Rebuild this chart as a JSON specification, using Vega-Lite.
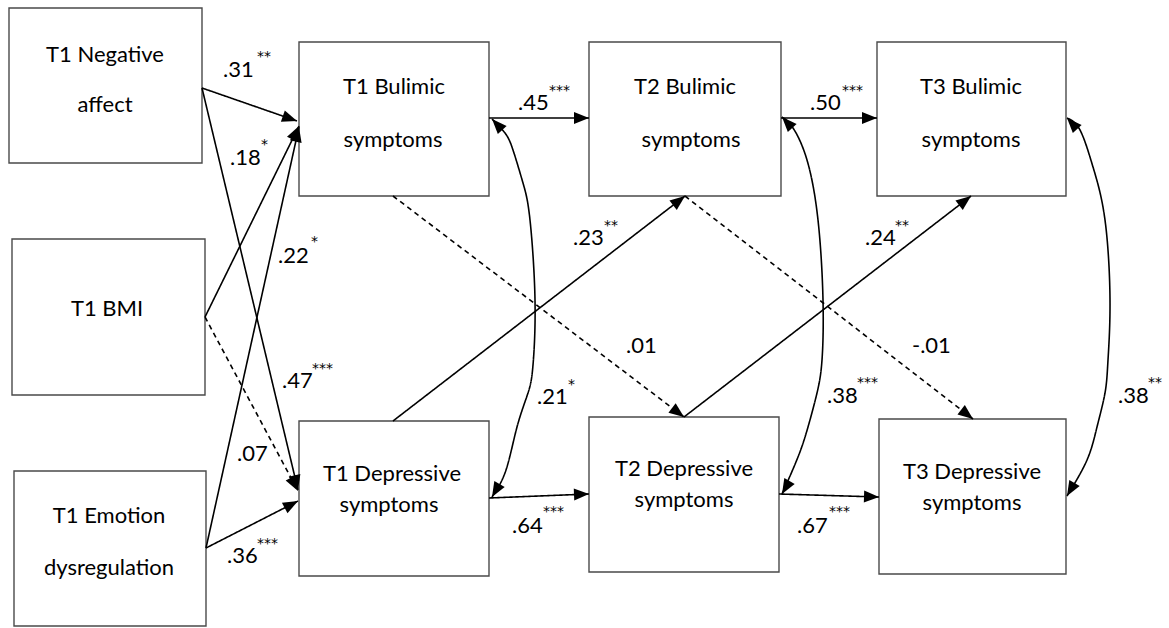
{
  "$schema": "https://vega.github.io/schema/vega-lite/v6.json",
  "width": 1169,
  "height": 628,
  "autosize": {"type": "fit", "contains": "padding"},
  "padding": 0,
  "background": "white",
  "config": {"view": {"stroke": null}},
  "datasets": {
    "boxes": [
      {"id": "T1 Negative affect", "x1": 9, "y1": 8, "x2": 202, "y2": 163},
      {"id": "T1 BMI", "x1": 12, "y1": 239, "x2": 205, "y2": 395},
      {"id": "T1 Emotion dysregulation", "x1": 14, "y1": 471, "x2": 206, "y2": 626},
      {"id": "T1 Bulimic symptoms", "x1": 299, "y1": 42, "x2": 489, "y2": 196},
      {"id": "T2 Bulimic symptoms", "x1": 589, "y1": 42, "x2": 781, "y2": 196},
      {"id": "T3 Bulimic symptoms", "x1": 877, "y1": 42, "x2": 1066, "y2": 196},
      {"id": "T1 Depressive symptoms", "x1": 299, "y1": 421, "x2": 489, "y2": 576},
      {"id": "T2 Depressive symptoms", "x1": 589, "y1": 417, "x2": 779, "y2": 572},
      {"id": "T3 Depressive symptoms", "x1": 879, "y1": 419, "x2": 1066, "y2": 574}
    ],
    "boxlabels": [
      {"text": "T1 Negative", "x": 105, "y": 62},
      {"text": "affect", "x": 105, "y": 112},
      {"text": "T1 BMI", "x": 107, "y": 316},
      {"text": "T1 Emotion", "x": 109, "y": 523},
      {"text": "dysregulation", "x": 109, "y": 575},
      {"text": "T1 Bulimic", "x": 394, "y": 94},
      {"text": "symptoms", "x": 393, "y": 147},
      {"text": "T2 Bulimic", "x": 685, "y": 94},
      {"text": "symptoms", "x": 691, "y": 147},
      {"text": "T3 Bulimic", "x": 971, "y": 94},
      {"text": "symptoms", "x": 971, "y": 147},
      {"text": "T1 Depressive", "x": 392, "y": 481},
      {"text": "symptoms", "x": 389, "y": 512},
      {"text": "T2 Depressive", "x": 684, "y": 476},
      {"text": "symptoms", "x": 684, "y": 507},
      {"text": "T3 Depressive", "x": 972, "y": 479},
      {"text": "symptoms", "x": 972, "y": 510}
    ],
    "paths": [
      {"id": "p1", "seq": 1, "x": 202, "y": 88, "sig": "yes"},
      {"id": "p1", "seq": 2, "x": 297, "y": 121, "sig": "yes"},
      {"id": "p2", "seq": 1, "x": 202, "y": 88, "sig": "yes"},
      {"id": "p2", "seq": 2, "x": 298, "y": 490, "sig": "yes"},
      {"id": "p3", "seq": 1, "x": 205, "y": 317, "sig": "yes"},
      {"id": "p3", "seq": 2, "x": 299, "y": 126, "sig": "yes"},
      {"id": "p4", "seq": 1, "x": 205, "y": 317, "sig": "no"},
      {"id": "p4", "seq": 2, "x": 298, "y": 491, "sig": "no"},
      {"id": "p5", "seq": 1, "x": 206, "y": 548, "sig": "yes"},
      {"id": "p5", "seq": 2, "x": 299, "y": 127, "sig": "yes"},
      {"id": "p6", "seq": 1, "x": 206, "y": 548, "sig": "yes"},
      {"id": "p6", "seq": 2, "x": 298, "y": 501, "sig": "yes"},
      {"id": "p7", "seq": 1, "x": 489, "y": 118, "sig": "yes"},
      {"id": "p7", "seq": 2, "x": 589, "y": 118, "sig": "yes"},
      {"id": "p8", "seq": 1, "x": 781, "y": 118, "sig": "yes"},
      {"id": "p8", "seq": 2, "x": 877, "y": 118, "sig": "yes"},
      {"id": "p9", "seq": 1, "x": 489, "y": 498, "sig": "yes"},
      {"id": "p9", "seq": 2, "x": 589, "y": 494, "sig": "yes"},
      {"id": "p10", "seq": 1, "x": 779, "y": 494, "sig": "yes"},
      {"id": "p10", "seq": 2, "x": 879, "y": 497, "sig": "yes"},
      {"id": "p11", "seq": 1, "x": 393, "y": 421, "sig": "yes"},
      {"id": "p11", "seq": 2, "x": 685, "y": 196, "sig": "yes"},
      {"id": "p12", "seq": 1, "x": 684, "y": 417, "sig": "yes"},
      {"id": "p12", "seq": 2, "x": 971, "y": 196, "sig": "yes"},
      {"id": "p13", "seq": 1, "x": 393, "y": 196, "sig": "no"},
      {"id": "p13", "seq": 2, "x": 684, "y": 417, "sig": "no"},
      {"id": "p14", "seq": 1, "x": 685, "y": 196, "sig": "no"},
      {"id": "p14", "seq": 2, "x": 973, "y": 419, "sig": "no"},
      {"id": "c1", "seq": 1, "x": 492, "y": 119, "sig": "yes"},
      {"id": "c1", "seq": 2, "x": 505, "y": 133, "sig": "yes"},
      {"id": "c1", "seq": 3, "x": 513, "y": 150, "sig": "yes"},
      {"id": "c1", "seq": 4, "x": 523, "y": 183, "sig": "yes"},
      {"id": "c1", "seq": 5, "x": 530, "y": 220, "sig": "yes"},
      {"id": "c1", "seq": 6, "x": 535, "y": 300, "sig": "yes"},
      {"id": "c1", "seq": 7, "x": 533, "y": 365, "sig": "yes"},
      {"id": "c1", "seq": 8, "x": 528, "y": 393, "sig": "yes"},
      {"id": "c1", "seq": 9, "x": 517, "y": 427, "sig": "yes"},
      {"id": "c1", "seq": 10, "x": 506, "y": 470, "sig": "yes"},
      {"id": "c1", "seq": 11, "x": 492, "y": 497, "sig": "yes"},
      {"id": "c2", "seq": 1, "x": 782, "y": 117, "sig": "yes"},
      {"id": "c2", "seq": 2, "x": 793, "y": 128, "sig": "yes"},
      {"id": "c2", "seq": 3, "x": 807, "y": 160, "sig": "yes"},
      {"id": "c2", "seq": 4, "x": 818, "y": 220, "sig": "yes"},
      {"id": "c2", "seq": 5, "x": 823, "y": 300, "sig": "yes"},
      {"id": "c2", "seq": 6, "x": 822, "y": 360, "sig": "yes"},
      {"id": "c2", "seq": 7, "x": 817, "y": 393, "sig": "yes"},
      {"id": "c2", "seq": 8, "x": 808, "y": 427, "sig": "yes"},
      {"id": "c2", "seq": 9, "x": 798, "y": 457, "sig": "yes"},
      {"id": "c2", "seq": 10, "x": 782, "y": 494, "sig": "yes"},
      {"id": "c3", "seq": 1, "x": 1067, "y": 118, "sig": "yes"},
      {"id": "c3", "seq": 2, "x": 1080, "y": 130, "sig": "yes"},
      {"id": "c3", "seq": 3, "x": 1093, "y": 167, "sig": "yes"},
      {"id": "c3", "seq": 4, "x": 1105, "y": 220, "sig": "yes"},
      {"id": "c3", "seq": 5, "x": 1110, "y": 300, "sig": "yes"},
      {"id": "c3", "seq": 6, "x": 1108, "y": 360, "sig": "yes"},
      {"id": "c3", "seq": 7, "x": 1105, "y": 393, "sig": "yes"},
      {"id": "c3", "seq": 8, "x": 1097, "y": 427, "sig": "yes"},
      {"id": "c3", "seq": 9, "x": 1087, "y": 460, "sig": "yes"},
      {"id": "c3", "seq": 10, "x": 1067, "y": 496, "sig": "yes"}
    ],
    "heads": [
      {"x": 297, "y": 121, "angle": 109.3},
      {"x": 298, "y": 490, "angle": 166.6},
      {"x": 299, "y": 126, "angle": 26.3},
      {"x": 298, "y": 491, "angle": 152},
      {"x": 299, "y": 127, "angle": 12.6},
      {"x": 298, "y": 501, "angle": 62.4},
      {"x": 589, "y": 118, "angle": 90},
      {"x": 877, "y": 118, "angle": 90},
      {"x": 589, "y": 494, "angle": 87.7},
      {"x": 879, "y": 497, "angle": 91.7},
      {"x": 685, "y": 196, "angle": 52.4},
      {"x": 971, "y": 196, "angle": 52.4},
      {"x": 684, "y": 417, "angle": 127.2},
      {"x": 973, "y": 419, "angle": 127.8},
      {"x": 492, "y": 119, "angle": -43},
      {"x": 492, "y": 497, "angle": -150},
      {"x": 782, "y": 117, "angle": -43},
      {"x": 782, "y": 494, "angle": -150},
      {"x": 1067, "y": 118, "angle": -43},
      {"x": 1067, "y": 496, "angle": -150}
    ],
    "coefs": [
      {"text": ".31", "x": 223, "y": 77},
      {"text": ".18", "x": 230, "y": 165},
      {"text": ".22", "x": 278, "y": 263},
      {"text": ".47", "x": 282, "y": 388},
      {"text": ".07", "x": 237, "y": 461},
      {"text": ".36", "x": 227, "y": 563},
      {"text": ".45", "x": 518, "y": 110},
      {"text": ".50", "x": 810, "y": 110},
      {"text": ".23", "x": 573, "y": 245},
      {"text": ".01", "x": 626, "y": 353},
      {"text": ".24", "x": 865, "y": 245},
      {"text": "-.01", "x": 912, "y": 353},
      {"text": ".21", "x": 537, "y": 404},
      {"text": ".64", "x": 512, "y": 533},
      {"text": ".38", "x": 827, "y": 403},
      {"text": ".67", "x": 797, "y": 533},
      {"text": ".38", "x": 1118, "y": 403}
    ],
    "stars": [
      {"text": "**", "x": 257, "y": 53},
      {"text": "*", "x": 261, "y": 141},
      {"text": "*", "x": 311, "y": 238},
      {"text": "***", "x": 312, "y": 365},
      {"text": "***", "x": 257, "y": 540},
      {"text": "***", "x": 549, "y": 87},
      {"text": "***", "x": 842, "y": 87},
      {"text": "**", "x": 604, "y": 222},
      {"text": "**", "x": 895, "y": 222},
      {"text": "*", "x": 568, "y": 381},
      {"text": "***", "x": 543, "y": 508},
      {"text": "***", "x": 857, "y": 379},
      {"text": "***", "x": 829, "y": 508},
      {"text": "**", "x": 1148, "y": 379}
    ]
  },
  "layer": [
    {
      "data": {"name": "boxes"},
      "mark": {"type": "rect", "fill": "white", "stroke": "#4a4a4a", "strokeWidth": 1.4},
      "encoding": {
        "x": {"field": "x1", "type": "quantitative", "scale": {"domain": [0, 1169], "nice": false, "zero": false}, "axis": null},
        "x2": {"field": "x2"},
        "y": {"field": "y1", "type": "quantitative", "scale": {"domain": [628, 0], "nice": false, "zero": false}, "axis": null},
        "y2": {"field": "y2"}
      }
    },
    {
      "data": {"name": "paths"},
      "mark": {"type": "line", "color": "black", "strokeWidth": 1.6, "interpolate": "natural"},
      "encoding": {
        "x": {"field": "x", "type": "quantitative"},
        "y": {"field": "y", "type": "quantitative"},
        "detail": {"field": "id"},
        "order": {"field": "seq", "type": "quantitative"},
        "strokeDash": {"field": "sig", "type": "nominal", "scale": {"domain": ["yes", "no"], "range": [[1, 0], [5, 4]]}, "legend": null}
      }
    },
    {
      "data": {"name": "heads"},
      "mark": {"type": "point", "shape": "M0,0L0.4,1L-0.4,1Z", "size": 900, "filled": true, "color": "black", "opacity": 1, "strokeWidth": 0},
      "encoding": {
        "x": {"field": "x", "type": "quantitative"},
        "y": {"field": "y", "type": "quantitative"},
        "angle": {"field": "angle", "type": "quantitative", "scale": null}
      }
    },
    {
      "data": {"name": "boxlabels"},
      "mark": {"type": "text", "font": "Lato", "fontSize": 22, "align": "center", "baseline": "alphabetic", "color": "black"},
      "encoding": {
        "x": {"field": "x", "type": "quantitative"},
        "y": {"field": "y", "type": "quantitative"},
        "text": {"field": "text"}
      }
    },
    {
      "data": {"name": "coefs"},
      "mark": {"type": "text", "font": "Lato", "fontSize": 22, "align": "left", "baseline": "alphabetic", "color": "black"},
      "encoding": {
        "x": {"field": "x", "type": "quantitative"},
        "y": {"field": "y", "type": "quantitative"},
        "text": {"field": "text"}
      }
    },
    {
      "data": {"name": "stars"},
      "mark": {"type": "text", "font": "DejaVu Sans", "fontSize": 14, "align": "left", "baseline": "alphabetic", "dy": 8, "color": "black"},
      "encoding": {
        "x": {"field": "x", "type": "quantitative"},
        "y": {"field": "y", "type": "quantitative"},
        "text": {"field": "text"}
      }
    }
  ]
}
